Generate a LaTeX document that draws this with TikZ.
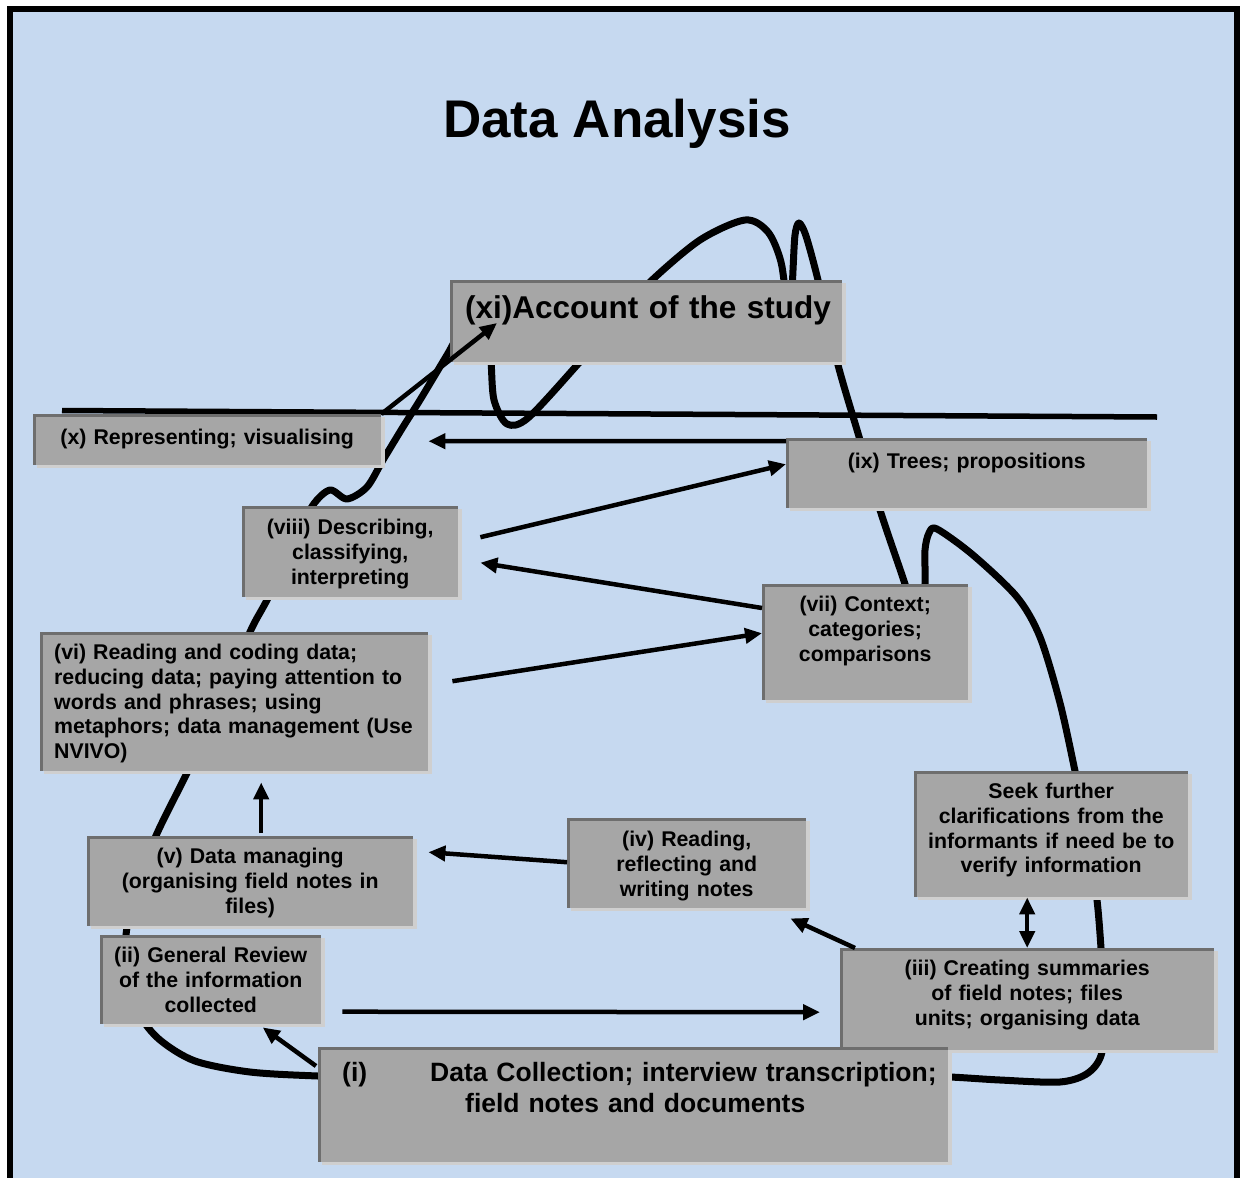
\documentclass[tikz,border=0pt]{standalone}
\usepackage{fontspec}
\setmainfont{Liberation Sans}
\usetikzlibrary{arrows.meta,calc,shadows}

\definecolor{paneblue}{HTML}{C6D9F0}
\definecolor{boxgray}{HTML}{A6A6A6}
\definecolor{edgegray}{HTML}{6E6E6E}
\definecolor{shadegray}{HTML}{CFCFCF}

\newcommand{\boxfont}{\fontsize{21.3}{24.7}\selectfont\bfseries}

\tikzset{
  stage/.style={anchor=north west, fill=boxgray, inner xsep=0pt, inner ysep=0pt,
    align=center, font=\boxfont,
    general shadow={fill=shadegray, shadow xshift=4pt, shadow yshift=-3pt},
    path picture={\draw[edgegray, line width=5pt]
      (path picture bounding box.south west) -- (path picture bounding box.north west)
      -- (path picture bounding box.north east);}},
  boxsize/.style n args={3}{text width=#1pt, text height=#2pt, text depth=#3pt},
  flow/.style={line width=4.5pt, -{Triangle[length=17pt, width=15pt]}},
  twoway/.style={line width=4.5pt, {Triangle[length=17pt, width=15pt]}-{Triangle[length=17pt, width=15pt]}},
  cycleline/.style={line width=7pt, line cap=round, line join=round},
}

\begin{document}
\begin{tikzpicture}[x=1pt, y=-1pt]
  \useasboundingbox (0,0) rectangle (1245,1178);
  \fill[white] (0,0) rectangle (1245,1178);

  % panel and frame
  \fill[paneblue] (10,9) rectangle (1237,1180);
  \draw[line width=6pt] (10,1182) -- (10,9) -- (1237,9) -- (1237,1182);

  \node (title) at (617,124) {\fontsize{53}{60}\selectfont\bfseries Data Analysis};

  % the winding line behind the boxes
  \draw[cycleline] plot[smooth, tension=0.5] coordinates {
    (400,1078) (318,1076) (250,1072) (195,1061) (160,1040) (140,1015)
    (128,975) (126,935) (135,895) (155,838) (186,775) (220,705)
    (250,632) (268,598) (295,540) (313,505) (330,490) (347,499)
    (367,487) (383,460) (403,427) (420,400) (447,355) (462,330)
    (478,328) (488,350) (491,362) (494,400) (507,424) (528,418)
    (578,364) (614,322) (650,282) (700,240) (745,220) (768,232)
    (781,262) (787,305) (791,310) (793,270) (795,235) (799,223) (806,236)
    (818,280) (838,365) (860,440) (880,510) (905,584) (913,612)
    (921,605) (925,584) (925,550) (929,533) (937,529) (973,555)
    (1017,597) (1040,637) (1060,703) (1075,771) (1088,835) (1097,900)
    (1101,948) (1104,1000) (1102,1052) (1088,1073) (1060,1082) (1000,1080)
    (950,1077) (900,1076)};

  \draw[line width=5.5pt] (62,410.5) -- (1157,417);

  % boxes
  \node[stage, boxsize={362}{38}{44}, inner xsep=15pt, align=left,
    font=\fontsize{31.5}{36}\selectfont\bfseries] (account) at (450,280)
    {\mbox{(xi)Account of the study}};
  \node[stage, boxsize={348}{30.6}{20.4}] (represent) at (33,414)
    {(x) Representing; visualising};
  \node[stage, boxsize={361}{30.6}{39.4}] (trees) at (786,438)
    {(ix) Trees; propositions};
  \node[stage, boxsize={216}{28.6}{62.4}] (describe) at (242,506)
    {(viii) Describing,\\ classifying,\\ interpreting};
  \node[stage, boxsize={206}{27.6}{88.4}] (context) at (762,584)
    {(vii) Context;\\ categories;\\ comparisons};
  \node[stage, boxsize={360}{27.6}{111.4}, inner xsep=14pt, align=left] (coding) at (40,632)
    {(vi) Reading and coding data;\\ reducing data; paying attention to\\
     words and phrases; using\\ metaphors; data management (Use\\ NVIVO)};
  \node[stage, boxsize={326}{27.6}{62.4}] (managing) at (87,836)
    {(v) Data managing\\ (organising field notes in\\ files)};
  \node[stage, boxsize={239}{28.6}{61.4}] (reading) at (567,818)
    {(iv) Reading,\\ reflecting and\\ writing notes};
  \node[stage, boxsize={274}{27.6}{98.4}] (seek) at (914,771)
    {Seek further\\ clarifications from the\\ informants if need be to\\ verify information};
  \node[stage, boxsize={374}{27.6}{74.4}] (summary) at (840,948)
    {(iii) Creating summaries\\ of field notes; files\\ units; organising data};
  \node[stage, boxsize={221}{27.6}{61.4}] (review) at (100,935)
    {(ii) General Review\\ of the information\\ collected};
  \node[stage, boxsize={630}{34}{81}, align=left,
    font=\fontsize{26.5}{31}\selectfont\bfseries] (collect) at (318,1047)
    {\hspace*{24pt}\makebox[88pt][l]{(i)}Data Collection; interview transcription;\\
     \hspace*{147pt}field notes and documents};

  % arrows
  \draw[flow] ($(collect.north west)+(-2,19)$) -- ($(review.south)+(52,3)$);
  \draw[flow] ($(review.east)+(21,32)$) -- ($(summary.west)+(-20,13)$);
  \draw[flow] ($(summary.north west)+(15,0)$) -- ($(reading.south east)+(-16,10)$);
  \draw[twoway] (summary.north) -- (summary.north |- seek.south);
  \draw[flow] ($(reading.west)+(0,-1)$) -- ($(managing.east)+(15,-29)$);
  \draw[flow] ($(managing.north)+(11,-3)$) -- ($(managing.north |- coding.south)+(11,11)$);
  \draw[flow] ($(coding.east)+(24,-20.5)$) -- ($(context.west)+(0,-9)$);
  \draw[flow] ($(context.north west)+(0,24)$) -- ($(describe.east)+(22,11)$);
  \draw[flow] ($(describe.east)+(22,-14.5)$) -- ($(trees.west)+(0,-9)$);
  \draw[flow] ($(trees.north west)+(0,3)$) -- ($(represent.east)+(47,1.5)$);
  \draw[flow] (represent.north east) -- ($(account.north west)+(47,43)$);
\end{tikzpicture}
\end{document}
